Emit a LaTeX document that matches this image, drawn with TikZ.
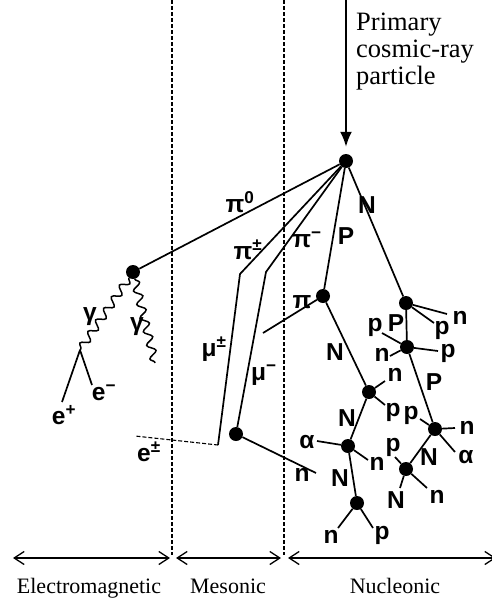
\documentclass[tikz,border=0pt]{standalone}
\usepackage{fontspec}
\setmainfont{Liberation Serif}
\newfontfamily\labfont{Liberation Sans}
\usetikzlibrary{arrows.meta,decorations.pathmorphing}
\begin{document}
\begin{tikzpicture}[x=1pt,y=-1pt,
  dot/.style={circle,fill=black,inner sep=0pt,minimum size=14pt},
  lab/.style={font=\labfont\bfseries\fontsize{24.5}{27}\selectfont,inner sep=0pt},
  track/.style={line width=1.7pt},
  divider/.style={line width=1.1pt,dash pattern=on 4pt off 2pt},
  photon/.style={line width=1.5pt,decorate,decoration={snake,amplitude=4pt,segment length=14pt}},
  region/.style={line width=1.3pt,{Straight Barb[length=10pt,width=13pt]}-{Straight Barb[length=10pt,width=13pt]}},
  regionlab/.style={font=\fontsize{22}{24}\selectfont,anchor=base,inner sep=0pt},
  incoming/.style={line width=2pt,-{Latex[length=15pt,width=12pt]},shorten >=7pt}
]
\useasboundingbox (0,0) rectangle (492,598);

% dividers
\coordinate (d1t) at (172,0); \coordinate (d1b) at (172,555);
\coordinate (d2t) at (284,0); \coordinate (d2b) at (284,555);
\draw[divider] (d1t) -- (d1b);
\draw[divider] (d2t) -- (d2b);

% region arrows
\coordinate (r1a) at (13,558); \coordinate (r1b) at (170,558);
\coordinate (r2a) at (176,558); \coordinate (r2b) at (281,558);
\coordinate (r3a) at (288,558); \coordinate (r3b) at (496,558);
\draw[region] (r1a) -- (r1b);
\draw[region] (r2a) -- (r2b);
\draw[region] (r3a) -- (r3b);
\node[regionlab] (em) at (89,593) {Electromagnetic};
\node[regionlab] (ms) at (228,593) {Mesonic};
\node[regionlab] (nc) at (395,593) {Nucleonic};

% primary
\node[font=\fontsize{26.5}{27}\selectfont,align=left,anchor=north west,inner sep=0pt] (prim) at (356,13) {Primary\\cosmic-ray\\particle};

% vertices
\node[dot] (v0) at (346,161) {};
\node[dot] (v1) at (133,272) {};
\node[dot] (v2) at (236,434) {};
\node[dot] (v3) at (323,296) {};
\node[dot] (v4) at (406,303) {};
\node[dot] (v5) at (407,347) {};
\node[dot] (v6) at (435,429) {};
\node[dot] (v7) at (406,469) {};
\node[dot] (v8) at (369,392) {};
\node[dot] (v9) at (348,446) {};
\node[dot] (v10) at (357,503) {};

\coordinate (src) at (346,0);
\draw[incoming] (src) -- (v0);

% coordinates for free ends / bends
\coordinate (pmbend) at (240,274);
\coordinate (mupmend) at (218,445);
\coordinate (eend) at (135,436);
\coordinate (pimbend) at (266,272);
\coordinate (nend) at (316,473);
\coordinate (piend) at (263,333);
\coordinate (gA) at (80,350);
\coordinate (gB) at (155,363);
\coordinate (epos) at (62,402);
\coordinate (eneg) at (92,385);
\coordinate (v4n) at (447,314);
\coordinate (v4p) at (434,323);
\coordinate (v5p1) at (382,333);
\coordinate (v5n) at (390,356);
\coordinate (v5p2) at (438,351);
\coordinate (v6n) at (455,428);
\coordinate (v6a) at (455,452);
\coordinate (v6p) at (420,419);
\coordinate (v7p) at (395,457);
\coordinate (v7N) at (400,488);
\coordinate (v7n) at (427,488);
\coordinate (v8n) at (385,381);
\coordinate (v8p) at (385,405);
\coordinate (v9a) at (317,441);
\coordinate (v9n) at (368,460);
\coordinate (v10n) at (338,528);
\coordinate (v10p) at (373,528);

% tracks
\draw[track] (v0) -- (v1);
\draw[track] (v0) -- (pmbend) -- (mupmend);
\draw[divider] (mupmend) -- (eend);
\draw[track] (v0) -- (pimbend) -- (v2);
\draw[track] (v2) -- (nend);
\draw[track] (v0) -- (v3);
\draw[track] (v3) -- (piend);
\draw[track] (v0) -- (v4);
\draw[track] (v4) -- (v4n);
\draw[track] (v4) -- (v4p);
\draw[track] (v4) -- (v5);
\draw[track] (v5) -- (v5p1);
\draw[track] (v5) -- (v5n);
\draw[track] (v5) -- (v5p2);
\draw[track] (v5) -- (v6);
\draw[track] (v6) -- (v6n);
\draw[track] (v6) -- (v6a);
\draw[track] (v6) -- (v6p);
\draw[track] (v6) -- (v7);
\draw[track] (v7) -- (v7p);
\draw[track] (v7) -- (v7N);
\draw[track] (v7) -- (v7n);
\draw[track] (v3) -- (v8);
\draw[track] (v8) -- (v8n);
\draw[track] (v8) -- (v8p);
\draw[track] (v8) -- (v9);
\draw[track] (v9) -- (v9a);
\draw[track] (v9) -- (v9n);
\draw[track] (v9) -- (v10);
\draw[track] (v10) -- (v10n);
\draw[track] (v10) -- (v10p);
\draw[photon] (v1) -- (gA);
\draw[photon] (v1) -- (gB);
\draw[track] (gA) -- (epos);
\draw[track] (gA) -- (eneg);

% labels
\node[lab] (lpi0) at (240,202) {π\textsuperscript{0}};
\node[lab] (lpipm) at (248,250) {π\textsuperscript{±}};
\node[lab] (lpim) at (307,240) {π\textsuperscript{−}};
\node[lab] (lmupm) at (214,349) {μ\textsuperscript{±}};
\node[lab] (lmum) at (264,375) {μ\textsuperscript{−}};
\node[lab] (lepm) at (149,452) {e\textsuperscript{±}};
\node[lab] (lep) at (64,415) {e\textsuperscript{+}};
\node[lab] (lem) at (104,393) {e\textsuperscript{−}};
\node[lab] (lg1) at (90,317) {γ};
\node[lab] (lg2) at (137,327) {γ};
\node[lab] (ln1) at (302,475) {n};
\node[lab] (lP1) at (346,236) {P};
\node[lab] (lpi) at (302,302) {π};
\node[lab] (lN1) at (367,205) {N};
\node[lab] (ln2) at (460,318) {n};
\node[lab] (lp2) at (442,330) {p};
\node[lab] (lP2) at (396,323) {P};
\node[lab] (lp3) at (375,327) {p};
\node[lab] (ln3) at (382,355) {n};
\node[lab] (lp4) at (448,353) {p};
\node[lab] (lP3) at (434,382) {P};
\node[lab] (ln4) at (467,428) {n};
\node[lab] (la1) at (466,457) {α};
\node[lab] (lp5) at (411,415) {p};
\node[lab] (lN2) at (429,457) {N};
\node[lab] (lp6) at (393,447) {p};
\node[lab] (lN3) at (396,500) {N};
\node[lab] (ln5) at (437,497) {n};
\node[lab] (lN4) at (335,352) {N};
\node[lab] (ln6) at (395,375) {n};
\node[lab] (lp7) at (393,412) {p};
\node[lab] (lN5) at (347,418) {N};
\node[lab] (la2) at (307,442) {α};
\node[lab] (ln7) at (377,464) {n};
\node[lab] (lN6) at (340,478) {N};
\node[lab] (ln8) at (331,537) {n};
\node[lab] (lp8) at (382,535) {p};
\end{tikzpicture}
\end{document}
